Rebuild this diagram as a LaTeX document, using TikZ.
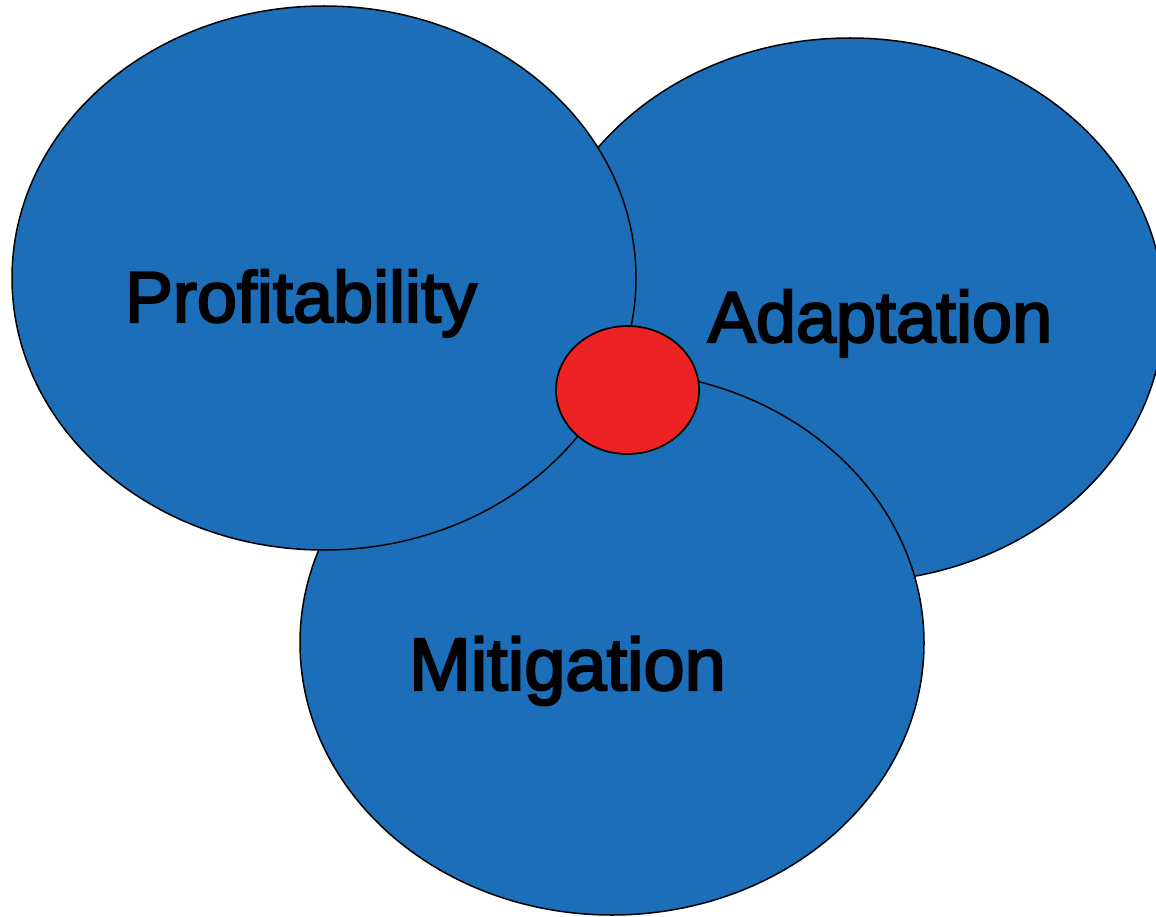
\documentclass[tikz,border=0pt]{standalone}
\usepackage{fontspec}
\setmainfont{Liberation Sans}
\newfontfamily\lblfont{Liberation Sans}[FakeBold=3]
\usetikzlibrary{shapes.geometric}
\definecolor{vblue}{RGB}{27,110,183}
\definecolor{vred}{RGB}{237,34,36}
\tikzset{
  circ/.style={ellipse, draw=black, line width=1.5pt, fill=vblue, inner sep=0pt},
  hub/.style={ellipse, draw=black, line width=1.7pt, fill=vred, inner sep=0pt, minimum width=143pt, minimum height=128pt},
  lbl/.style={anchor=base, font=\lblfont\fontsize{72}{86}\selectfont, text=black, inner sep=0pt}
}
\begin{document}
\begin{tikzpicture}[x=1pt,y=-1pt]
\useasboundingbox (0,0) rectangle (1156,917);
\clip (0,0) rectangle (1156,917);
\fill[white] (0,0) rectangle (1156,917);
\node[circ, minimum width=628pt, minimum height=544pt] (adapt) at (850,310) {};
\node[circ, minimum width=624pt, minimum height=544pt] (mitig) at (612,643) {};
\node[circ, minimum width=624pt, minimum height=544pt] (prof) at (324,278) {};
\node[hub] (core) at (627.5,390) {};
\node[lbl] (tprof) at (301,322) {Profitability};
\node[lbl] (tadapt) at (880,342) {Adaptation};
\node[lbl, font=\lblfont\fontsize{74}{88}\selectfont] (tmitig) at (567.5,690) {Mitigation};
\end{tikzpicture}
\end{document}
